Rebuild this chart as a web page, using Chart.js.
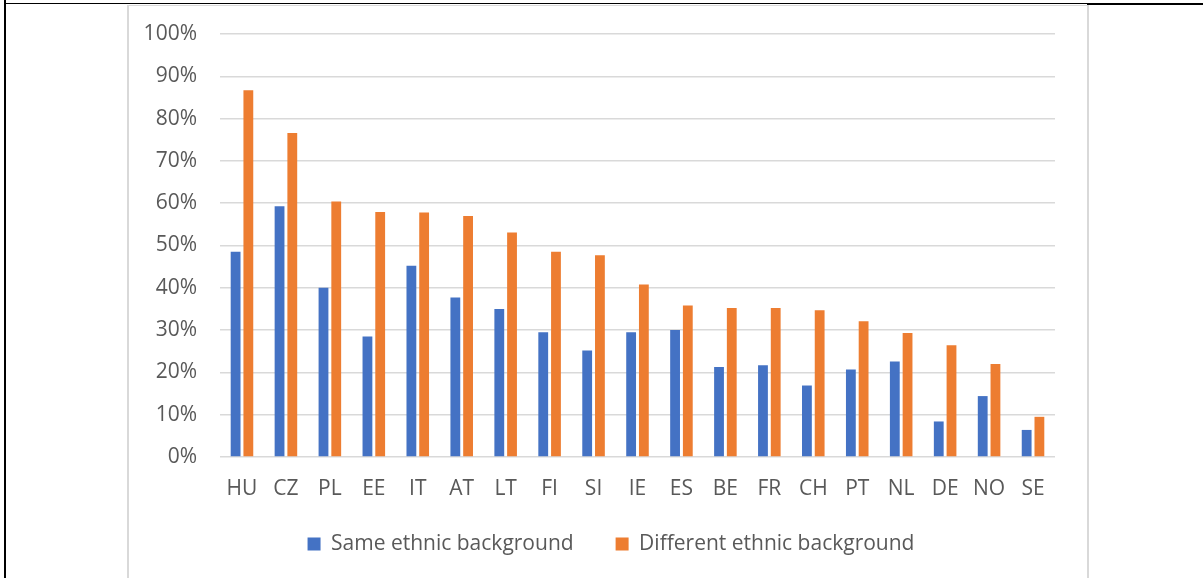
<!DOCTYPE html>
<html>
<head>
<meta charset="utf-8">
<script src="https://cdn.jsdelivr.net/npm/chart.js@4/dist/chart.umd.min.js"></script>
<style>
  html, body { margin: 0; padding: 0; background: #fff; }
  body { width: 1203px; height: 578px; position: relative; overflow: hidden; }
  .rule-left { position: absolute; left: 4px; top: 0; width: 2px; height: 578px; background: #000; }
  .rule-top { position: absolute; left: 4px; top: 3px; width: 1199px; height: 1px; background: #000; }
  .rule-top-right { position: absolute; left: 1087px; top: 3px; width: 116px; height: 2px; background: #000; }
  .frame { position: absolute; left: 127px; top: 5px; width: 958px; height: 580px;
           border-left: 2px solid #d9d9d9; border-right: 2px solid #d9d9d9; border-top: 1px solid #d9d9d9; }
  #chart { position: absolute; left: 128px; top: 6px; }
</style>
</head>
<body>
<div class="rule-left"></div>
<div class="rule-top"></div>
<div class="rule-top-right"></div>
<div class="frame"></div>
<canvas id="chart" width="958" height="572"></canvas>
<script>
// Countries, ordered by share for respondents of a different ethnic background
const countries = ['HU', 'CZ', 'PL', 'EE', 'IT', 'AT', 'LT', 'FI', 'SI', 'IE',
                   'ES', 'BE', 'FR', 'CH', 'PT', 'NL', 'DE', 'NO', 'SE'];

// Shares in percent
const sameEthnic = [48.5, 59.3, 40.0, 28.5, 45.2, 37.7, 35.0, 29.5, 25.2, 29.5,
                    30.0, 21.3, 21.7, 16.9, 20.7, 22.6, 8.4, 14.4, 6.4];
const differentEthnic = [86.7, 76.6, 60.4, 57.9, 57.8, 57.0, 53.1, 48.5, 47.7, 40.8,
                         35.8, 35.2, 35.2, 34.7, 32.1, 29.3, 26.4, 22.0, 9.5];

const seriesNames = ['Same ethnic background', 'Different ethnic background'];
const yTicks = [0, 10, 20, 30, 40, 50, 60, 70, 80, 90, 100];

const textColor = '#595959';
const font = { family: 'Open Sans', size: 21 };

new Chart(document.getElementById('chart'), {
  type: 'bar',
  data: {
    labels: countries,
    datasets: [
      { label: seriesNames[0], data: sameEthnic, backgroundColor: '#4472C4' },
      { label: seriesNames[1], data: differentEthnic, backgroundColor: '#ED7D31' }
    ]
  },
  options: {
    responsive: false,
    animation: false,
    datasets: { bar: { categoryPercentage: 0.58, barPercentage: 0.77 } },
    layout: { padding: { left: 12, right: 4, top: 28, bottom: 13.5 } },
    plugins: {
      tooltip: { enabled: false },
      legend: {
        position: 'bottom',
        labels: {
          color: textColor,
          font: font,
          boxWidth: 13,
          boxHeight: 13,
          padding: 42
        }
      }
    },
    scales: {
      x: {
        grid: { display: false },
        border: { display: false },
        // mirrored with a negative padding so the labels sit below the axis unclipped
        ticks: { color: textColor, font: font, mirror: true, padding: -45.1, maxRotation: 0 },
        afterFit: (scale) => { scale.height = 34.5; }
      },
      y: {
        min: 0,
        max: 100,
        afterBuildTicks: (scale) => { scale.ticks = yTicks.map(v => ({ value: v })); },
        // invisible tick marks provide the gap between labels and plot
        grid: { color: '#d9d9d9', lineWidth: 1.5, drawTicks: true, tickLength: 23, tickColor: 'rgba(0,0,0,0)' },
        border: { display: false },
        ticks: {
          color: textColor,
          font: font,
          padding: 0,
          callback: (v) => v + '%'
        },
        afterFit: (scale) => { scale.width = 80; }
      },
      // empty spacer on the right so the legend stays centred on the whole chart
      yPad: {
        position: 'right',
        display: true,
        grid: { display: false },
        border: { display: false },
        ticks: { display: false },
        afterFit: (scale) => { scale.width = 27; }
      }
    }
  }
});
</script>
</body>
</html>
